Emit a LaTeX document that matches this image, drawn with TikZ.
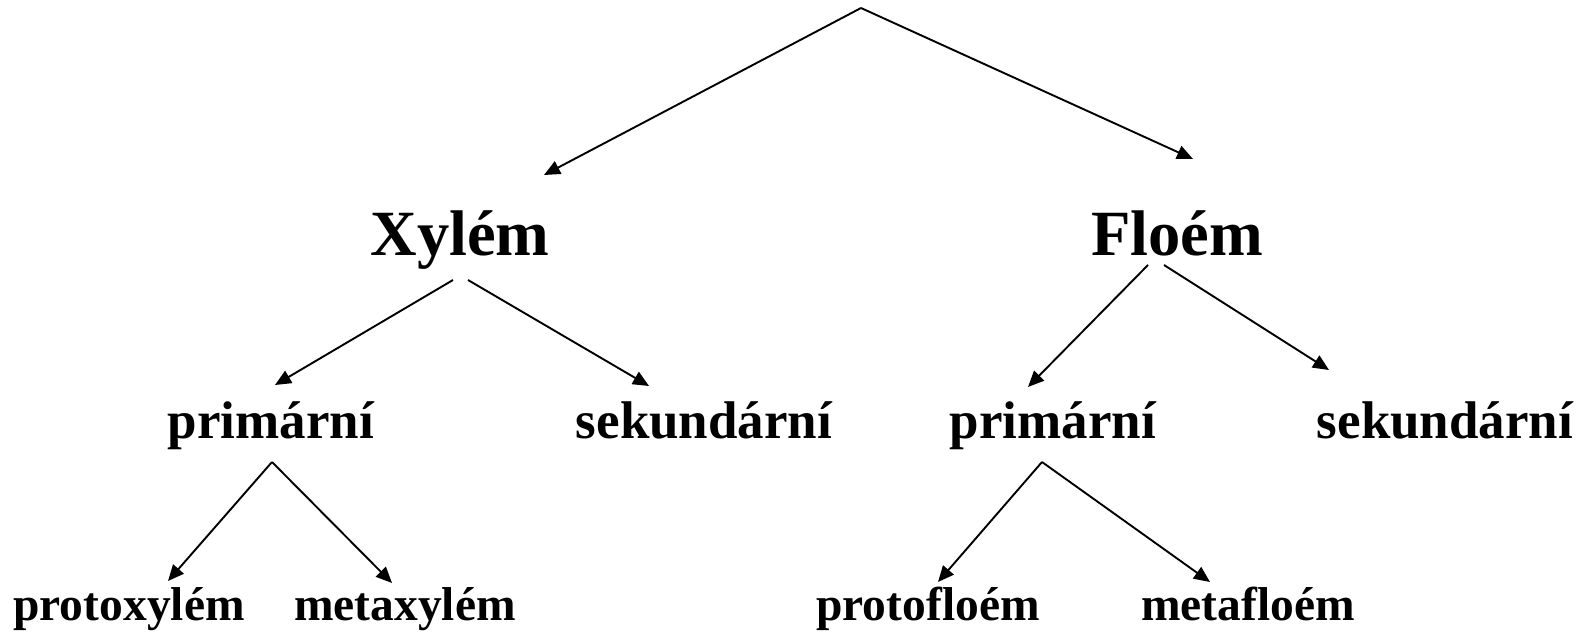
\documentclass[tikz,border=0pt]{standalone}
\usepackage{fontspec}
\setmainfont{Liberation Serif}
\usetikzlibrary{arrows.meta,calc}
\tikzset{
  lvlone/.style={anchor=base, inner sep=0pt, font=\fontsize{64.5}{70}\selectfont\bfseries},
  lvltwo/.style={anchor=base, inner sep=0pt, font=\fontsize{53}{60}\selectfont\bfseries},
  lvlthree/.style={anchor=base, inner sep=0pt, font=\fontsize{47.5}{54}\selectfont\bfseries},
  link/.style={line width=1.9pt, -{Triangle[length=16pt,width=14pt]}}
}
\begin{document}
\begin{tikzpicture}[x=1pt,y=-1pt]
  \useasboundingbox (0,0) rectangle (1582,634);
  % labels
  \node[lvlone] (xylem) at (460,255) {Xylém};
  \node[lvlone] (floem) at (1177,255) {Floém};
  \node[lvltwo] (primL) at (271,438) {primární};
  \node[lvltwo] (sekL) at (704,438) {sekundární};
  \node[lvltwo] (primR) at (1053,438) {primární};
  \node[lvltwo] (sekR) at (1445,438) {sekundární};
  \node[lvlthree] (protoX) at (129,620) {protoxylém};
  \node[lvlthree] (metaX) at (405,620) {metaxylém};
  \node[lvlthree] (protoF) at (928,620) {protofloém};
  \node[lvlthree] (metaF) at (1248,620) {metafloém};
  % attachment points of the connectors
  \coordinate (apex) at (861,8);
  \coordinate (xylemIn) at ($(xylem.base)+(84,-80)$);
  \coordinate (floemIn) at ($(floem.base)+(16,-96)$);
  \coordinate (xylemOutL) at ($(xylem.base)+(-7,25)$);
  \coordinate (xylemOutR) at ($(xylem.base)+(8,25)$);
  \coordinate (floemOutL) at ($(floem.base)+(-29,10)$);
  \coordinate (floemOutR) at ($(floem.base)+(-13,10)$);
  \coordinate (primLIn) at ($(primL.base)+(4,-53)$);
  \coordinate (sekLIn) at ($(sekL.base)+(-55,-52)$);
  \coordinate (primRIn) at ($(primR.base)+(-25,-51)$);
  \coordinate (sekRIn) at ($(sekR.base)+(-116,-68)$);
  \coordinate (primLOut) at ($(primL.base)+(1,24)$);
  \coordinate (primROut) at ($(primR.base)+(-11,24)$);
  \coordinate (protoXIn) at ($(protoX.base)+(39,-39)$);
  \coordinate (metaXIn) at ($(metaX.base)+(-13,-37)$);
  \coordinate (protoFIn) at ($(protoF.base)+(10,-38)$);
  \coordinate (metaFIn) at ($(metaF.base)+(-38,-38)$);
  % connectors
  \draw[link] (apex) -- (xylemIn);
  \draw[link] (apex) -- (floemIn);
  \draw[link] (xylemOutL) -- (primLIn);
  \draw[link] (xylemOutR) -- (sekLIn);
  \draw[link] (floemOutL) -- (primRIn);
  \draw[link] (floemOutR) -- (sekRIn);
  \draw[link] (primLOut) -- (protoXIn);
  \draw[link] (primLOut) -- (metaXIn);
  \draw[link] (primROut) -- (protoFIn);
  \draw[link] (primROut) -- (metaFIn);
\end{tikzpicture}
\end{document}
